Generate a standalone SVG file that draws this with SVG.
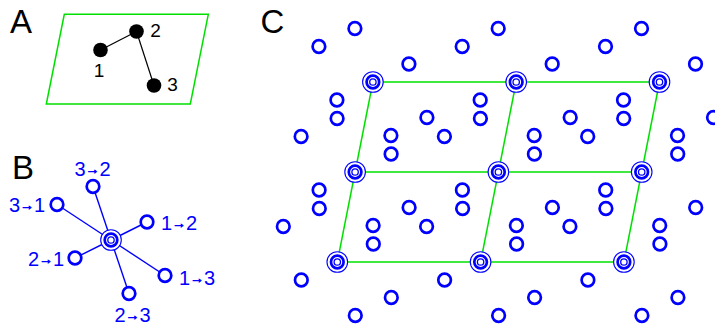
<svg xmlns="http://www.w3.org/2000/svg" width="715" height="331" viewBox="0 0 715 331">
<style>
text{font-family:"Liberation Sans",Arial,sans-serif}
.big{font-size:33px;fill:#000}
.num{font-size:19px;fill:#000;text-anchor:middle}
.lab{font-size:20px;fill:#0000ff;text-anchor:middle}
.arr{font-size:14px;stroke:#0000ff;stroke-width:0.6}
.sc{fill:#fff;stroke:#0000ff;stroke-width:2.7}
.ro{fill:#fff;stroke:#0000ff;stroke-width:1.1}
.ri{fill:none;stroke:#0000ff;stroke-width:1.3}
.green{fill:none;stroke:#00e000;stroke-width:1.5}
.bl{stroke:#0000ff;stroke-width:1.4}
.kl{stroke:#000;stroke-width:1.2}
.dot{fill:#000}
</style>
<defs>
<g id="site">
<circle class="ro" r="10.3"/>
<circle class="sc" r="6.3"/>
<circle class="ri" r="3.2"/>
</g>
</defs>

<!-- Panel A -->
<text class="big" x="10" y="32.5">A</text>
<polygon class="green" points="64.3,14.3 208.3,14.3 190.3,104 46.3,104"/>
<g id="a-connectors">
<line class="kl" x1="100.5" y1="50" x2="136.5" y2="31.5"/>
<line class="kl" x1="136.5" y1="31.5" x2="154" y2="85.5"/>
</g>
<g id="a1"><circle class="dot" cx="100.5" cy="50" r="7.3"/><text class="num" x="99" y="76.5">1</text></g>
<g id="a2"><circle class="dot" cx="136.5" cy="31.5" r="7.3"/><text class="num" x="155.5" y="37">2</text></g>
<g id="a3"><circle class="dot" cx="154" cy="85.5" r="7.3"/><text class="num" x="172.5" y="90.5">3</text></g>

<!-- Panel B -->
<text class="big" x="12" y="179">B</text>
<g id="b-connectors">
<line class="bl" x1="111" y1="240" x2="93" y2="186.5"/>
<line class="bl" x1="111" y1="240" x2="57" y2="204.5"/>
<line class="bl" x1="111" y1="240" x2="147" y2="222"/>
<line class="bl" x1="111" y1="240" x2="75" y2="258"/>
<line class="bl" x1="111" y1="240" x2="165" y2="275.5"/>
<line class="bl" x1="111" y1="240" x2="129" y2="293.5"/>
</g>
<g id="b-center"><use href="#site" x="111" y="240"/></g>
<g id="b32"><circle class="sc" cx="93" cy="186.5" r="6.3"/><text class="lab" x="92.5" y="176">3<tspan class="arr" dy="-2">→</tspan><tspan dy="2">2</tspan></text></g>
<g id="b31"><circle class="sc" cx="57" cy="204.5" r="6.3"/><text class="lab" x="27" y="211.5">3<tspan class="arr" dy="-2">→</tspan><tspan dy="2">1</tspan></text></g>
<g id="b12"><circle class="sc" cx="147" cy="222" r="6.3"/><text class="lab" x="179" y="230">1<tspan class="arr" dy="-2">→</tspan><tspan dy="2">2</tspan></text></g>
<g id="b21"><circle class="sc" cx="75" cy="258" r="6.3"/><text class="lab" x="46" y="266">2<tspan class="arr" dy="-2">→</tspan><tspan dy="2">1</tspan></text></g>
<g id="b13"><circle class="sc" cx="165" cy="275.5" r="6.3"/><text class="lab" x="197" y="284.5">1<tspan class="arr" dy="-2">→</tspan><tspan dy="2">3</tspan></text></g>
<g id="b23"><circle class="sc" cx="129" cy="293.5" r="6.3"/><text class="lab" x="132.5" y="322">2<tspan class="arr" dy="-2">→</tspan><tspan dy="2">3</tspan></text></g>

<!-- Panel C -->
<text class="big" x="260.5" y="33">C</text>
<g id="c-connectors">
<line class="green" x1="337.3" y1="262" x2="623.9" y2="262"/>
<line class="green" x1="355.1" y1="172" x2="641.7" y2="172"/>
<line class="green" x1="372.9" y1="82" x2="659.5" y2="82"/>
<line class="green" x1="337.3" y1="262" x2="372.9" y2="82"/>
<line class="green" x1="480.6" y1="262" x2="516.2" y2="82"/>
<line class="green" x1="623.9" y1="262" x2="659.5" y2="82"/>
</g>
<g id="c-sites">
<g id="s00"><use href="#site" x="337.3" y="262"/></g>
<g id="s10"><use href="#site" x="480.6" y="262"/></g>
<g id="s20"><use href="#site" x="623.9" y="262"/></g>
<g id="s01"><use href="#site" x="355.1" y="172"/></g>
<g id="s11"><use href="#site" x="498.4" y="172"/></g>
<g id="s21"><use href="#site" x="641.7" y="172"/></g>
<g id="s02"><use href="#site" x="372.9" y="82"/></g>
<g id="s12"><use href="#site" x="516.2" y="82"/></g>
<g id="s22"><use href="#site" x="659.5" y="82"/></g>
</g>
<g id="c-circles">
<circle class="sc" cx="319.3" cy="208.5" r="6.3"/><circle class="sc" cx="283.3" cy="226.5" r="6.3"/><circle class="sc" cx="373.3" cy="244" r="6.3"/><circle class="sc" cx="301.3" cy="280" r="6.3"/><circle class="sc" cx="391.3" cy="297.5" r="6.3"/><circle class="sc" cx="355.3" cy="315.5" r="6.3"/>
<circle class="sc" cx="462.6" cy="208.5" r="6.3"/><circle class="sc" cx="426.6" cy="226.5" r="6.3"/><circle class="sc" cx="516.6" cy="244" r="6.3"/><circle class="sc" cx="444.6" cy="280" r="6.3"/><circle class="sc" cx="534.6" cy="297.5" r="6.3"/><circle class="sc" cx="498.6" cy="315.5" r="6.3"/>
<circle class="sc" cx="605.9" cy="208.5" r="6.3"/><circle class="sc" cx="569.9" cy="226.5" r="6.3"/><circle class="sc" cx="659.9" cy="244" r="6.3"/><circle class="sc" cx="587.9" cy="280" r="6.3"/><circle class="sc" cx="677.9" cy="297.5" r="6.3"/><circle class="sc" cx="641.9" cy="315.5" r="6.3"/>
<circle class="sc" cx="337.1" cy="118.5" r="6.3"/><circle class="sc" cx="301.1" cy="136.5" r="6.3"/><circle class="sc" cx="391.1" cy="154" r="6.3"/><circle class="sc" cx="319.1" cy="190" r="6.3"/><circle class="sc" cx="409.1" cy="207.5" r="6.3"/><circle class="sc" cx="373.1" cy="225.5" r="6.3"/>
<circle class="sc" cx="480.4" cy="118.5" r="6.3"/><circle class="sc" cx="444.4" cy="136.5" r="6.3"/><circle class="sc" cx="534.4" cy="154" r="6.3"/><circle class="sc" cx="462.4" cy="190" r="6.3"/><circle class="sc" cx="552.4" cy="207.5" r="6.3"/><circle class="sc" cx="516.4" cy="225.5" r="6.3"/>
<circle class="sc" cx="623.7" cy="118.5" r="6.3"/><circle class="sc" cx="587.7" cy="136.5" r="6.3"/><circle class="sc" cx="677.7" cy="154" r="6.3"/><circle class="sc" cx="605.7" cy="190" r="6.3"/><circle class="sc" cx="695.7" cy="207.5" r="6.3"/><circle class="sc" cx="659.7" cy="225.5" r="6.3"/>
<circle class="sc" cx="354.9" cy="28.5" r="6.3"/><circle class="sc" cx="318.9" cy="46.5" r="6.3"/><circle class="sc" cx="408.9" cy="64" r="6.3"/><circle class="sc" cx="336.9" cy="100" r="6.3"/><circle class="sc" cx="426.9" cy="117.5" r="6.3"/><circle class="sc" cx="390.9" cy="135.5" r="6.3"/>
<circle class="sc" cx="498.2" cy="28.5" r="6.3"/><circle class="sc" cx="462.2" cy="46.5" r="6.3"/><circle class="sc" cx="552.2" cy="64" r="6.3"/><circle class="sc" cx="480.2" cy="100" r="6.3"/><circle class="sc" cx="570.2" cy="117.5" r="6.3"/><circle class="sc" cx="534.2" cy="135.5" r="6.3"/>
<circle class="sc" cx="641.5" cy="28.5" r="6.3"/><circle class="sc" cx="605.5" cy="46.5" r="6.3"/><circle class="sc" cx="695.5" cy="64" r="6.3"/><circle class="sc" cx="623.5" cy="100" r="6.3"/><circle class="sc" cx="713.5" cy="117.5" r="6.3"/><circle class="sc" cx="677.5" cy="135.5" r="6.3"/>
</g>
</svg>
